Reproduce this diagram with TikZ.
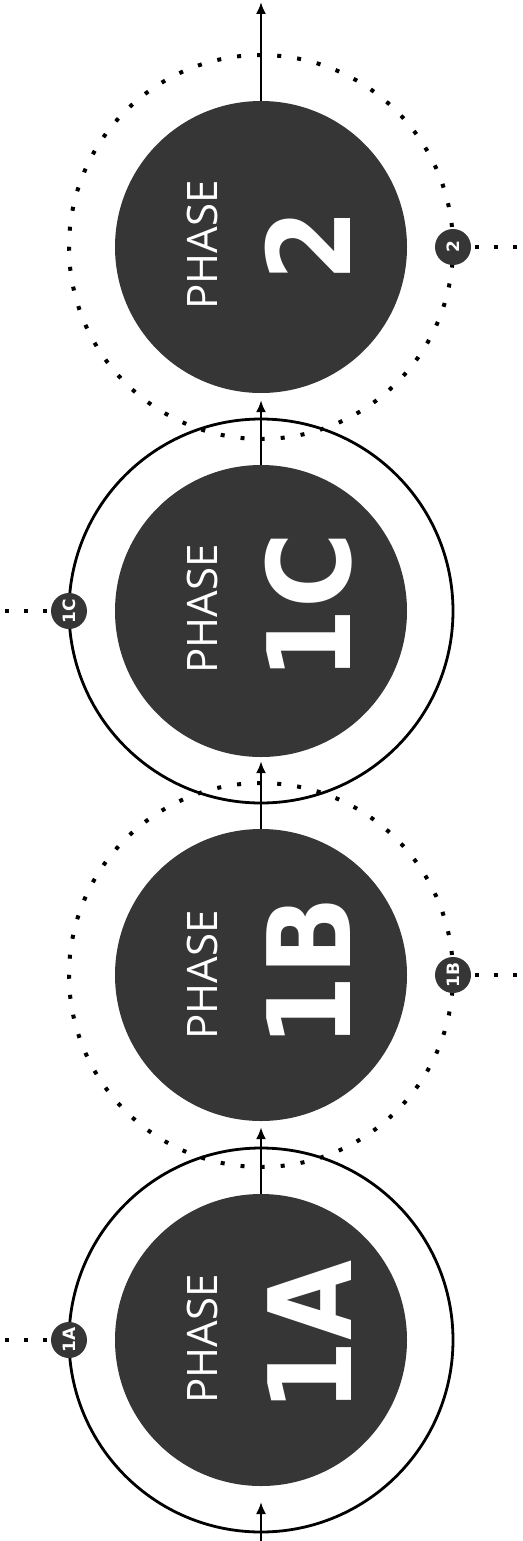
\documentclass[tikz,border=0pt]{standalone}
\usepackage{fontspec}
\setmainfont{Open Sans}
\newfontfamily\numfont{DejaVu Sans}
\usetikzlibrary{arrows.meta}
\definecolor{darkfill}{HTML}{363636}
\begin{document}
\begin{tikzpicture}[x=1pt,y=-1pt,
  phasedisc/.style={circle, fill=darkfill, minimum size=292pt, inner sep=0pt},
  solidring/.style={circle, draw=black, line width=2.8pt, minimum size=384pt, inner sep=0pt},
  dotring/.style={circle, draw=black, line width=4pt, dash pattern=on 4pt off 16.1pt, minimum size=384pt, inner sep=0pt},
  tag/.style={circle, fill=darkfill, minimum size=36pt, inner sep=0pt, text=white, font=\numfont\bfseries\fontsize{17}{17}\selectfont, rotate=90},
  leader/.style={line width=4pt, dash pattern=on 4pt off 15pt, dash phase=15pt},
  arr/.style={line width=2pt, -{Latex[length=12pt,width=10pt]}},
  phasetxt/.style={text=white, font=\fontsize{42}{42}\selectfont, rotate=90, inner sep=0pt},
  numtxt/.style={text=white, font=\numfont\bfseries\fontsize{115}{115}\selectfont, rotate=90, inner sep=0pt}]
\useasboundingbox (0,0) rectangle (522,1541);

% rings
\node[solidring] (r1a) at (261,1340) {};
\node[dotring]   (r1b) at (261,975) {};
\node[solidring] (r1c) at (261,611) {};
\node[dotring]   (r2)  at (261,247) {};

% discs
\node[phasedisc] (p1a) at (261,1340) {};
\node[phasedisc] (p1b) at (261,975) {};
\node[phasedisc] (p1c) at (261,611) {};
\node[phasedisc] (p2)  at (261,247) {};

% texts
\node[phasetxt] (t1a) at (202,1339) {PHASE};
\node[numtxt]   (n1a) at (310,1336) {\scalebox{0.9}[1]{1A}};
\node[phasetxt] (t1b) at (202,975) {PHASE};
\node[numtxt]   (n1b) at (309,972) {\scalebox{0.9}[1]{1B}};
\node[phasetxt] (t1c) at (202,609) {PHASE};
\node[numtxt]   (n1c) at (309,607) {\scalebox{0.9}[1]{1C}};
\node[phasetxt] (t2)  at (202,245) {PHASE};
\node[numtxt]   (n2)  at (308,245) {\scalebox{0.9}[1]{2}};

% arrows
\coordinate (start) at (261,1541);
\coordinate (firsttip) at (261,1502);
\coordinate (end) at (261,2);
\draw[arr] (start) -- (firsttip);
\draw[arr, shorten >=6pt] (p1a.north) -- (p1b.south);
\draw[arr, shorten >=4pt] (p1b.north) -- (p1c.south);
\draw[arr, shorten >=7pt] (p1c.north) -- (p2.south);
\draw[arr] (p2.north) -- (end);

% tags
\node[tag] (l1a) at (69,1340) {1A};
\node[tag] (l1b) at (453,975) {1B};
\node[tag] (l1c) at (69,611) {1C};
\node[tag] (l2)  at (453,247) {2};

\coordinate (e1a) at (0,1340);
\coordinate (e1b) at (522,975);
\coordinate (e1c) at (0,611);
\coordinate (e2)  at (522,247);
\draw[leader] (l1a.north) -- (e1a);
\draw[leader] (l1b.south) -- (e1b);
\draw[leader] (l1c.north) -- (e1c);
\draw[leader] (l2.south) -- (e2);
\end{tikzpicture}
\end{document}
